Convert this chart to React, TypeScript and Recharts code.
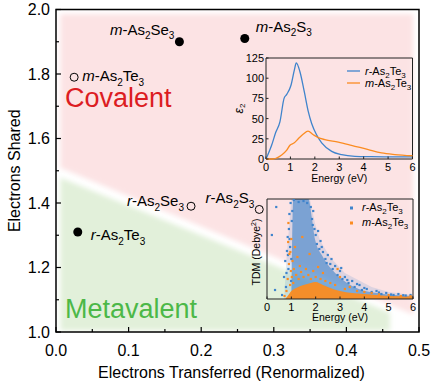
import React from "react";
import {
  ComposedChart,
  LineChart,
  Line,
  Area,
  Scatter,
  XAxis,
  YAxis,
  ReferenceArea,
  Legend,
} from "recharts";

const FONT = "Arial, 'Liberation Sans', sans-serif";
const BLUE = "#3f84cc";
const ORANGE = "#fb8c21";

// ---- main panel data ----
const mainXTicks = [0, 0.05, 0.1, 0.15, 0.2, 0.25, 0.3, 0.35, 0.4, 0.45, 0.5];
const mainYTicks = [1.0, 1.1, 1.2, 1.3, 1.4, 1.5, 1.6, 1.7, 1.8, 1.9, 2.0];

const filledNames = ["m-As2Se3", "m-As2S3", "r-As2Te3"];
const filledTransferred = [0.17, 0.26, 0.03];
const filledShared = [1.9, 1.91, 1.31];

const openNames = ["m-As2Te3", "r-As2Se3", "r-As2S3"];
const openTransferred = [0.025, 0.186, 0.28];
const openShared = [1.79, 1.39, 1.38];

// shaded regions (edges of the two bands)
const covalentX = [0.006, 0.492];
const covalentLow = [1.509, 1.054];
const covalentHigh = [1.986, 1.986];
const metavalentX = [0.006, 0.46];
const metavalentLow = [1.005, 1.005];
const metavalentHigh = [1.478, 1.06];

// ---- inset 1: eps2 vs energy ----
const energyTicks = [0, 1, 2, 3, 4, 5, 6];
const eps2Ticks = [0, 25, 50, 75, 100, 125];
const rEnergy = [0, 0.23, 0.4, 0.57, 0.74, 0.85, 1.02, 1.16, 1.24, 1.39, 1.57, 1.73, 1.87, 2.07, 2.28, 2.69, 3.1, 3.64, 4.3, 5.0, 6.0];
const rEps2 = [0, 17, 33, 46, 75, 80, 91, 110, 119, 108, 83, 59, 44, 30, 20, 9.5, 5.3, 3.3, 2.9, 2.7, 2.5];
const mEnergy = [0, 0.3, 0.45, 0.64, 0.85, 0.98, 1.16, 1.32, 1.53, 1.72, 1.94, 2.14, 2.41, 2.96, 3.5, 4.19, 4.73, 5.28, 6.0];
const mEps2 = [0, 0, 1.5, 5, 11, 17, 20, 25, 31, 34.5, 30, 26.5, 24, 21, 17, 11.5, 7.5, 5.5, 4];

// ---- inset 2: TDM vs energy ----
// dense clouds (upper envelope)
const rCloudX = [0.7, 0.8, 0.9, 1.0, 1.76, 1.97, 2.17, 2.59, 3.2, 4.3, 5.0, 6.0];
const rCloudTop = [0, 40, 70, 100, 100, 76, 59, 42, 26, 12, 7, 4];
const rCoreX = [1.0, 1.08, 1.7, 1.85, 1.97, 2.3, 2.8, 3.5, 4.5, 6.0];
const rCoreTop = [0, 100, 100, 80, 60, 42, 26, 13, 6, 3];
const mBandX = [0.75, 0.85, 1.0, 1.2, 1.5, 1.8, 2.0, 2.3, 2.6, 3.0, 3.5, 4.0, 4.5, 5.0, 6.0];
const mBandTop = [0, 3, 8, 11, 14, 16, 17, 14, 11, 8, 6, 5, 4, 3, 2.5];
// scattered transitions
const rDotX = [0.2, 0.38, 0.33, 0.62, 0.7, 0.75, 0.78, 0.82, 0.85, 0.88, 0.9, 0.92, 0.95, 0.97, 1.0, 1.02, 0.99, 1.1, 1.3, 1.5, 1.65, 1.8, 1.85, 1.9, 1.95, 2.0, 2.05, 2.1, 2.15, 2.2, 2.3, 2.4, 2.5, 2.6, 2.7, 2.8, 2.9, 3.0, 3.1, 3.2, 3.35, 3.5, 3.6, 3.8, 3.9, 4.1, 4.3, 4.5, 4.7, 4.9, 5.2, 5.4, 5.7, 5.9, 0.93, 0.86, 1.04, 0.8, 1.88, 2.25, 2.45, 2.65, 3.05, 3.3, 3.7, 4.0, 4.6, 5.1, 5.6];
const rDotTdm = [64, 92, 9, 4, 22, 38, 12, 48, 62, 30, 70, 85, 52, 96, 40, 78, 18, 99, 97, 98, 96, 92, 80, 88, 70, 64, 55, 68, 50, 58, 47, 40, 44, 35, 30, 33, 24, 28, 20, 22, 16, 18, 12, 14, 9, 10, 7, 8, 5, 6, 4, 5, 3.5, 4, 60, 44, 88, 26, 74, 52, 36, 40, 31, 19, 15, 11, 6.5, 4.5, 3.8];
const mDotX = [0.72, 0.8, 0.85, 0.87, 0.88, 0.9, 0.92, 0.95, 0.96, 0.98, 1.0, 1.02, 1.05, 1.08, 1.1, 1.15, 1.2, 1.25, 1.3, 1.35, 1.4, 1.45, 1.5, 1.6, 1.7, 1.75, 1.8, 1.9, 2.0, 2.1, 2.2, 2.3, 2.4, 2.6, 2.8, 2.9, 3.0, 3.2, 3.4, 3.7, 4.0, 4.3, 4.6, 5.0, 5.5, 5.9];
const mDotTdm = [3, 8, 20, 57, 76, 35, 45, 14, 47, 28, 60, 22, 38, 16, 30, 52, 24, 42, 20, 33, 27, 62, 22, 30, 24, 45, 20, 28, 22, 32, 20, 26, 18, 16, 14, 30, 22, 10, 12, 8, 7, 6, 4.5, 4, 3, 2.8];

const labelPlacement: Record<string, { dx: number; dy: number; anchor: "start" | "end" }> = {
  "m-As2Se3": { dx: -5, dy: -7, anchor: "end" },
  "m-As2S3": { dx: 11, dy: -7, anchor: "start" },
  "m-As2Te3": { dx: 8, dy: 4, anchor: "start" },
  "r-As2Se3": { dx: -7, dy: 0, anchor: "end" },
  "r-As2Te3": { dx: 13, dy: 8, anchor: "start" },
  "r-As2S3": { dx: -5, dy: -6, anchor: "end" },
};

function Formula({ name, x, y, size, subSize, anchor = "start" }: any) {
  const dash = name.indexOf("-");
  const prefix = name.slice(0, dash);
  const parts: string[] = name.slice(dash + 1).match(/[A-Za-z]+|\d+/g) || [];
  const drop = size * 0.3;
  let down = false;
  const spans = parts.map((p, i) => {
    const isSub = /^\d+$/.test(p);
    let dy = 0;
    if (isSub && !down) {
      dy = drop;
      down = true;
    } else if (!isSub && down) {
      dy = -drop;
      down = false;
    }
    return (
      <tspan key={i} dy={dy} fontSize={isSub ? subSize : size}>
        {p}
      </tspan>
    );
  });
  return (
    <text x={x} y={y} textAnchor={anchor} fontFamily={FONT} fontSize={size} fill="#000">
      <tspan fontStyle="italic">{prefix}</tspan>
      <tspan>-</tspan>
      {spans}
    </text>
  );
}

function Marker(props: any) {
  const { cx, cy, payload, filled } = props;
  if (cx == null || cy == null) return null;
  const place = labelPlacement[payload.name];
  return (
    <g>
      <circle
        cx={cx}
        cy={cy}
        r={filled ? 4.5 : 4}
        fill={filled ? "#000" : "none"}
        stroke="#000"
        strokeWidth={filled ? 0 : 1}
      />
      <Formula
        name={payload.name}
        x={cx + place.dx}
        y={cy + place.dy}
        size={15}
        subSize={10}
        anchor={place.anchor}
      />
    </g>
  );
}

function Dot(props: any) {
  const { cx, cy, fill } = props;
  if (cx == null || cy == null) return null;
  return <rect x={cx - 1.1} y={cy - 1.1} width={2.2} height={2.2} fill={fill} />;
}

function MainYTick({ x, y, payload }: any) {
  const major = Math.round(payload.value * 10) % 2 === 0;
  const axisX = x + 6;
  return (
    <g>
      <line x1={axisX} x2={axisX + (major ? 5 : 3)} y1={y} y2={y} stroke="#000" strokeWidth={1.2} />
      {major && (
        <text x={x} y={y} textAnchor="end" dominantBaseline="central" fontFamily={FONT} fontSize={16} fill="#000">
          {payload.value.toFixed(1)}
        </text>
      )}
    </g>
  );
}

function MainXTick({ x, y, payload }: any) {
  const major = Math.round(payload.value * 100) % 10 === 0;
  const axisY = y - 12;
  return (
    <g>
      <line x1={x} x2={x} y1={axisY} y2={axisY - (major ? 5 : 3)} stroke="#000" strokeWidth={1.2} />
      {major && (
        <text x={x} y={y + 6} textAnchor="middle" dominantBaseline="central" fontFamily={FONT} fontSize={16} fill="#000">
          {payload.value.toFixed(1)}
        </text>
      )}
    </g>
  );
}

function InsetXTick({ x, y, payload, margin }: any) {
  const axisY = y - margin;
  return (
    <g>
      <line x1={x} x2={x} y1={axisY} y2={axisY - 2.5} stroke="#222" strokeWidth={1} />
      <text x={x} y={axisY + 8} textAnchor="middle" dominantBaseline="central" fontFamily={FONT} fontSize={11} fill="#000">
        {payload.value}
      </text>
    </g>
  );
}

function InsetYTick({ x, y, payload }: any) {
  const axisX = x + 2;
  return (
    <g>
      <line x1={axisX} x2={axisX + 2.5} y1={y} y2={y} stroke="#222" strokeWidth={1} />
      <text x={x} y={y} textAnchor="end" dominantBaseline="central" fontFamily={FONT} fontSize={11} fill="#000">
        {payload.value}
      </text>
    </g>
  );
}

function LineLegend() {
  return (
    <svg width={90} height={28}>
      <line x1={0} x2={13} y1={7} y2={7} stroke={BLUE} strokeWidth={1.3} />
      <Formula name="r-As2Te3" x={18} y={11} size={11} subSize={8} />
      <line x1={0} x2={13} y1={19} y2={19} stroke={ORANGE} strokeWidth={1.3} />
      <Formula name="m-As2Te3" x={18} y={23} size={11} subSize={8} />
    </svg>
  );
}

function DotLegend() {
  return (
    <svg width={90} height={30}>
      <rect x={1} y={6.5} width={3} height={3} fill={BLUE} />
      <Formula name="r-As2Te3" x={13} y={11} size={11} subSize={8} />
      <rect x={1} y={21.5} width={3} height={3} fill={ORANGE} />
      <Formula name="m-As2Te3" x={13} y={26} size={11} subSize={8} />
    </svg>
  );
}

function EpsInset() {
  const rData = rEnergy.map((x, i) => ({ x, y: rEps2[i] }));
  const mData = mEnergy.map((x, i) => ({ x, y: mEps2[i] }));
  return (
    <LineChart width={200} height={140} margin={{ top: 10, right: 12.5, left: 10, bottom: 0 }}>
      <XAxis
        type="number"
        dataKey="x"
        domain={[0, 6]}
        ticks={energyTicks}
        interval={0}
        tickLine={false}
        axisLine={false}
        tickSize={0}
        tickMargin={4}
        height={29}
        tick={(p: any) => <InsetXTick {...p} margin={4} />}
        label={(p: any) => (
          <text
            x={p.viewBox.x + p.viewBox.width / 2}
            y={p.viewBox.y + 19}
            textAnchor="middle"
            dominantBaseline="central"
            fontFamily={FONT}
            fontSize={10.5}
            fill="#000"
          >
            Energy (eV)
          </text>
        )}
      />
      <YAxis
        type="number"
        domain={[0, 125]}
        ticks={eps2Ticks}
        interval={0}
        width={31}
        tickLine={false}
        axisLine={false}
        tickSize={0}
        tickMargin={2}
        tick={<InsetYTick />}
        label={(p: any) => {
          const cx = p.viewBox.x + 4;
          const cy = p.viewBox.y + p.viewBox.height / 2;
          return (
            <text
              x={cx}
              y={cy}
              transform={`rotate(-90 ${cx} ${cy})`}
              textAnchor="middle"
              dominantBaseline="central"
              fontFamily={FONT}
              fontSize={12}
              fill="#000"
            >
              <tspan fontStyle="italic">ε</tspan>
              <tspan dy={3} fontSize={8}>2</tspan>
            </text>
          );
        }}
      />
      <ReferenceArea x1={0} x2={6} y1={0} y2={125} fill="none" stroke="#222" strokeWidth={1} />
      <Line data={rData} dataKey="y" type="monotone" stroke={BLUE} strokeWidth={1.3} dot={false} isAnimationActive={false} />
      <Line data={mData} dataKey="y" type="monotone" stroke={ORANGE} strokeWidth={1.3} dot={false} isAnimationActive={false} />
      <Legend
        content={<LineLegend />}
        layout="horizontal"
        verticalAlign="middle"
        align="center"
        wrapperStyle={{ left: 122, top: 16, width: 90, height: 28 }}
      />
    </LineChart>
  );
}

function TdmInset() {
  const cloud = rCloudX.map((x, i) => ({ x, band: [0, rCloudTop[i]] }));
  const core = rCoreX.map((x, i) => ({ x, band: [0, rCoreTop[i]] }));
  const bandM = mBandX.map((x, i) => ({ x, band: [0, mBandTop[i]] }));
  const rDots = rDotX.map((x, i) => ({ x, y: rDotTdm[i] }));
  const mDots = mDotX.map((x, i) => ({ x, y: mDotTdm[i] }));
  return (
    <ComposedChart width={200} height={140} margin={{ top: 9, right: 12, left: 10, bottom: 0 }}>
      <XAxis
        type="number"
        dataKey="x"
        domain={[0, 6]}
        ticks={energyTicks}
        interval={0}
        tickLine={false}
        axisLine={false}
        tickSize={0}
        tickMargin={5}
        height={31}
        allowDataOverflow
        tick={(p: any) => <InsetXTick {...p} margin={5} />}
        label={(p: any) => (
          <text
            x={p.viewBox.x + p.viewBox.width / 2}
            y={p.viewBox.y + 18}
            textAnchor="middle"
            dominantBaseline="central"
            fontFamily={FONT}
            fontSize={10.5}
            fill="#000"
          >
            Energy (eV)
          </text>
        )}
      />
      <YAxis
        type="number"
        domain={[0, 100]}
        width={32}
        tick={false}
        tickLine={false}
        axisLine={false}
        allowDataOverflow
        label={(p: any) => {
          const cx = p.viewBox.x + 20.5;
          const cy = p.viewBox.y + p.viewBox.height / 2 + 3;
          return (
            <text
              x={cx}
              y={cy}
              transform={`rotate(-90 ${cx} ${cy})`}
              textAnchor="middle"
              dominantBaseline="central"
              fontFamily={FONT}
              fontSize={10.5}
              fill="#000"
            >
              TDM (Debye
              <tspan dy={-3} fontSize={7}>2</tspan>
              <tspan dy={3}>)</tspan>
            </text>
          );
        }}
      />
      <Area data={cloud} dataKey="band" type="linear" stroke="none" fill={BLUE} fillOpacity={0.16} isAnimationActive={false} />
      <Area data={core} dataKey="band" type="monotone" stroke="none" fill={BLUE} fillOpacity={0.62} isAnimationActive={false} />
      <Scatter data={rDots} dataKey="y" fill={BLUE} shape={<Dot />} isAnimationActive={false} />
      <Area data={bandM} dataKey="band" type="monotone" stroke="none" fill={ORANGE} fillOpacity={0.95} isAnimationActive={false} />
      <Scatter data={mDots} dataKey="y" fill={ORANGE} shape={<Dot />} isAnimationActive={false} />
      <ReferenceArea x1={0} x2={6} y1={0} y2={100} fill="none" stroke="#222" strokeWidth={1} />
      <Legend
        content={<DotLegend />}
        layout="horizontal"
        verticalAlign="middle"
        align="center"
        wrapperStyle={{ left: 124, top: 10, width: 90, height: 30 }}
      />
    </ComposedChart>
  );
}

export default function App() {
  const covalent = covalentX.map((x, i) => ({ x, band: [covalentLow[i], covalentHigh[i]] }));
  const metavalent = metavalentX.map((x, i) => ({ x, band: [metavalentLow[i], metavalentHigh[i]] }));
  const filled = filledNames.map((name, i) => ({ name, x: filledTransferred[i], y: filledShared[i] }));
  const open = openNames.map((name, i) => ({ name, x: openTransferred[i], y: openShared[i] }));

  return (
    <div style={{ position: "absolute", left: 0, top: 0, width: 433, height: 383, background: "#fff" }}>
      <ComposedChart width={433} height={383} margin={{ top: 9.5, right: 14, left: 10, bottom: 0 }}>
        <defs>
          <filter id="soft" x="-10%" y="-10%" width="120%" height="120%">
            <feGaussianBlur stdDeviation="2.5" />
          </filter>
        </defs>
        <XAxis
          type="number"
          dataKey="x"
          domain={[0, 0.5]}
          ticks={mainXTicks}
          interval={0}
          tickLine={false}
          axisLine={false}
          tickSize={0}
          tickMargin={12}
          height={51}
          allowDataOverflow
          tick={<MainXTick />}
          label={(p: any) => (
            <text
              x={p.viewBox.x + p.viewBox.width / 2 - 6}
              y={p.viewBox.y + 40}
              textAnchor="middle"
              dominantBaseline="central"
              fontFamily={FONT}
              fontSize={16}
              fill="#000"
            >
              Electrons Transferred (Renormalized)
            </text>
          )}
        />
        <YAxis
          type="number"
          domain={[1, 2]}
          ticks={mainYTicks}
          interval={0}
          width={46}
          tickLine={false}
          axisLine={false}
          tickSize={0}
          tickMargin={6}
          allowDataOverflow
          tick={<MainYTick />}
          label={(p: any) => {
            const cx = p.viewBox.x + 4;
            const cy = p.viewBox.y + p.viewBox.height / 2;
            return (
              <text
                x={cx}
                y={cy}
                transform={`rotate(-90 ${cx} ${cy})`}
                textAnchor="middle"
                dominantBaseline="central"
                fontFamily={FONT}
                fontSize={16}
                fill="#000"
              >
                Electrons Shared
              </text>
            );
          }}
        />
        <Area data={covalent} dataKey="band" type="linear" stroke="none" fill="#fce3e4" fillOpacity={1} filter="url(#soft)" isAnimationActive={false} />
        <Area data={metavalent} dataKey="band" type="linear" stroke="none" fill="#e2f0da" fillOpacity={1} filter="url(#soft)" isAnimationActive={false} />
        <ReferenceArea x1={0} x2={0.5} y1={1} y2={2} fill="none" stroke="#000" strokeWidth={1.5} />
        <Scatter data={filled} dataKey="y" shape={(p: any) => <Marker {...p} filled />} isAnimationActive={false} />
        <Scatter data={open} dataKey="y" shape={(p: any) => <Marker {...p} filled={false} />} isAnimationActive={false} />
      </ComposedChart>
      {/* region names sit above the shaded bands */}
      <svg width={433} height={383} style={{ position: "absolute", left: 0, top: 0, pointerEvents: "none" }}>
        <text x={65} y={107} fontFamily={FONT} fontSize={27} fill="#dc1c22">
          Covalent
        </text>
        <text x={65} y={318} fontFamily={FONT} fontSize={27} fill="#4cb848">
          Metavalent
        </text>
      </svg>
      <div style={{ position: "absolute", left: 225, top: 48 }}>
        <EpsInset />
      </div>
      <div style={{ position: "absolute", left: 225, top: 190 }}>
        <TdmInset />
      </div>
    </div>
  );
}
